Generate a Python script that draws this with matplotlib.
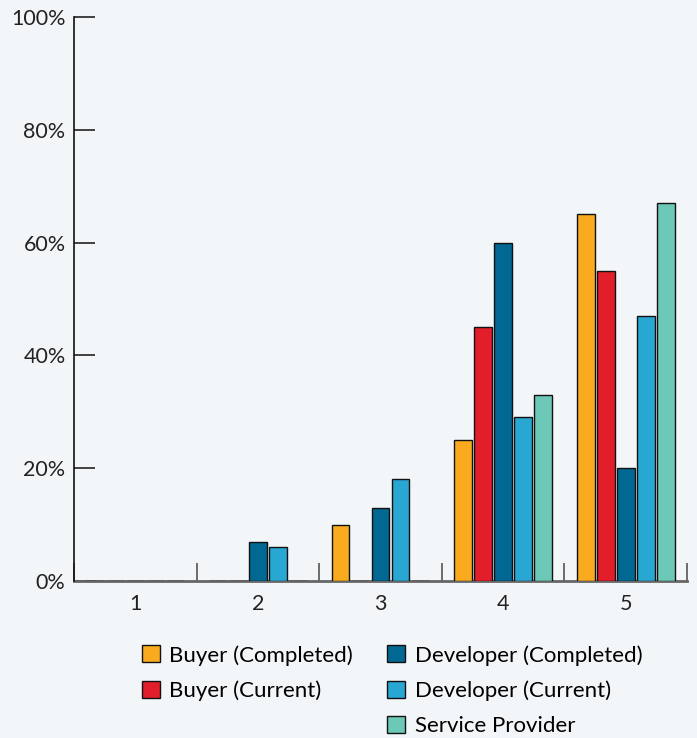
import numpy as np
import matplotlib.pyplot as plt
from matplotlib.patches import Patch

plt.rcParams['font.family'] = ['Lato', 'DejaVu Sans']

CATEGORIES = ['1', '2', '3', '4', '5']
BUYER_COMPLETED = [0, 0, 10, 25, 65]
BUYER_CURRENT = [0, 0, 0, 45, 55]
DEV_COMPLETED = [0, 7, 13, 60, 20]
DEV_CURRENT = [0, 6, 18, 29, 47]
SERVICE_PROVIDER = [0, 0, 0, 33, 67]

SERIES = [
    ('Buyer (Completed)', BUYER_COMPLETED, '#F9AA1E'),
    ('Buyer (Current)', BUYER_CURRENT, '#E21E2B'),
    ('Developer (Completed)', DEV_COMPLETED, '#006892'),
    ('Developer (Current)', DEV_CURRENT, '#28A7D3'),
    ('Service Provider', SERVICE_PROVIDER, '#6CC9B7'),
]
BG = '#F2F6F9'


def main():
    fig = plt.figure(figsize=(6.97, 7.38), dpi=100, facecolor=BG)
    ax = fig.add_axes([0.106, 0.2127, 0.8797, 0.7643], facecolor=BG)

    x = np.arange(len(CATEGORIES))
    step = 0.163
    width = 0.145
    handles = []
    for i, (name, vals, col) in enumerate(SERIES):
        ax.bar(x + (i - 2) * step, vals, width, color=col,
               edgecolor='#111111', linewidth=1.0, zorder=3)
        handles.append(Patch(facecolor=col, edgecolor='#111111', linewidth=1.0, label=name))

    ax.set_xlim(-0.5, len(CATEGORIES) - 0.5)
    ax.set_ylim(0, 100)
    ax.set_yticks(np.arange(0, 101, 20))
    ax.set_yticklabels([f'{v}%' for v in range(0, 101, 20)])
    ax.tick_params(axis='y', direction='in', length=15, width=1.2,
                   labelsize=15.5, pad=6, colors='#222222')

    ax.set_xticks(np.arange(-0.5, len(CATEGORIES)), labels=[])
    ax.set_xticks(x, labels=CATEGORIES, minor=True)
    ax.tick_params(axis='x', which='major', direction='in', length=13,
                   width=1.2, color='#555555')
    ax.tick_params(axis='x', which='minor', length=0, labelsize=15.5,
                   pad=9, labelcolor='#222222')

    for s in ['top', 'right']:
        ax.spines[s].set_visible(False)
    ax.spines['left'].set_color('#111111')
    ax.spines['left'].set_linewidth(1.2)
    ax.spines['bottom'].set_color('#666666')
    ax.spines['bottom'].set_linewidth(2)
    ax.spines['bottom'].set_zorder(2)

    blank = Patch(facecolor='none', edgecolor='none', label='')
    order = [handles[0], handles[1], blank, handles[2], handles[3], handles[4]]
    fig.legend(handles=order, labels=[h.get_label() for h in order],
               ncol=2, loc='upper left', bbox_to_anchor=(0.204, 0.126),
               frameon=False, fontsize=16, handlelength=0.8, handleheight=0.8,
               handletextpad=0.42, columnspacing=1.55, labelspacing=0.66,
               borderpad=0, borderaxespad=0)

    fig.savefig('out.png', dpi=100, facecolor=BG)


if __name__ == "__main__":
    main()
